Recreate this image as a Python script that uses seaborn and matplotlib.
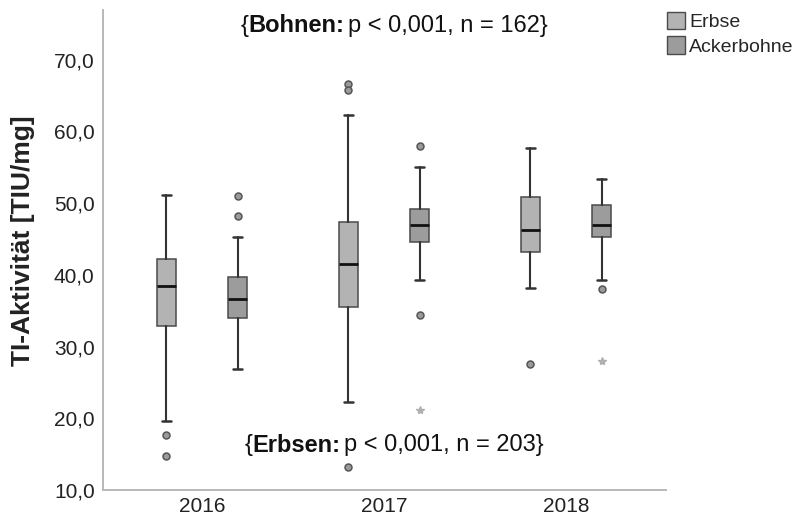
import matplotlib
matplotlib.use("Agg")
import matplotlib.pyplot as plt
from matplotlib.patches import Patch
import seaborn as sns

# Categories
years = ["2016", "2017", "2018"]
species = ["Erbse", "Ackerbohne"]

# Box statistics per year (TIU/mg)
erbse_whislo = [19.6, 22.2, 38.1]
erbse_q1 = [32.9, 35.5, 43.2]
erbse_med = [38.4, 41.5, 46.3]
erbse_q3 = [42.2, 47.3, 50.8]
erbse_whishi = [51.1, 62.3, 57.6]
erbse_outliers = [[17.6, 14.7], [66.6, 65.8, 13.2], [27.5]]
erbse_extremes = [[], [], []]

acker_whislo = [26.9, 39.3, 39.3]
acker_q1 = [34.0, 44.5, 45.3]
acker_med = [36.6, 47.0, 47.0]
acker_q3 = [39.7, 49.2, 49.7]
acker_whishi = [45.2, 55.0, 53.4]
acker_outliers = [[51.0, 48.2], [57.9, 34.4], [38.0]]
acker_extremes = [[], [21.2], [28.0]]

y_ticks = [10, 20, 30, 40, 50, 60, 70]

sns.set_theme(style="white")
plt.rcParams["font.family"] = ["Liberation Sans", "DejaVu Sans"]

W, H = 798, 518
fig = plt.figure(figsize=(W / 100, H / 100), dpi=100)
ax = fig.add_axes([103 / W, 1 - 490 / H, (666 - 103) / W, (490 - 10) / H])

fills = {"Erbse": "#b3b3b3", "Ackerbohne": "#9c9c9c"}
offsets = {"Erbse": -0.197, "Ackerbohne": 0.197}
groups = {
    "Erbse": (erbse_whislo, erbse_q1, erbse_med, erbse_q3, erbse_whishi, erbse_outliers, erbse_extremes),
    "Ackerbohne": (acker_whislo, acker_q1, acker_med, acker_q3, acker_whishi, acker_outliers, acker_extremes),
}

for name, (lo, q1, med, q3, hi, outs, extr) in groups.items():
    stats = []
    for i in range(len(years)):
        stats.append({"whislo": lo[i], "q1": q1[i], "med": med[i], "q3": q3[i],
                      "whishi": hi[i], "fliers": outs[i], "label": years[i]})
    pos = [i + offsets[name] for i in range(len(years))]
    ax.bxp(stats, positions=pos, widths=0.104, capwidths=0.05, patch_artist=True,
           showfliers=True, manage_ticks=False,
           boxprops=dict(facecolor=fills[name], edgecolor="#4a4a4a", linewidth=1.1),
           medianprops=dict(color="#111111", linewidth=2.0),
           whiskerprops=dict(color="#333333", linewidth=1.5),
           capprops=dict(color="#333333", linewidth=1.8),
           flierprops=dict(marker="o", markersize=5, markerfacecolor="#9a9a9a",
                           markeredgecolor="#555555", markeredgewidth=1.1))
    for i, vals in enumerate(extr):
        if vals:
            ax.plot([pos[i]] * len(vals), vals, linestyle="none", marker="*",
                    markersize=6, color="#b0b0b0")

ax.set_xlim(-0.544, 2.55)
ax.set_ylim(10, 76.9)
ax.set_xticks(range(len(years)))
ax.set_xticklabels(years)
ax.set_yticks(y_ticks)
ax.set_yticklabels([f"{v:.1f}".replace(".", ",") for v in y_ticks])
ax.tick_params(axis="both", length=0, labelsize=15, colors="#222222")
ax.tick_params(axis="y", pad=6)
ax.tick_params(axis="x", pad=5)
ax.set_ylabel("TI-Aktivität [TIU/mg]", fontsize=19, fontweight="bold", color="#222222",
              labelpad=10)
ax.yaxis.set_label_coords(-0.12, 0.52)

for side in ("top", "right"):
    ax.spines[side].set_visible(False)
for side in ("left", "bottom"):
    ax.spines[side].set_color("#b8b8b8")
    ax.spines[side].set_linewidth(1.4)
ax.grid(False)

# Legend
handles = [Patch(facecolor=fills[s], edgecolor="#4a4a4a", linewidth=1.0) for s in species]
fig.legend(handles, species, loc="upper left", bbox_to_anchor=(667 / W, 1 - 12 / H),
           frameon=False, fontsize=14, handlelength=0.95, handleheight=1.0,
           handletextpad=0.2, labelspacing=0.25, borderpad=0, borderaxespad=0)


def mixed_text(cx, cy, parts, size):
    """Draw consecutive text pieces of differing weight, centred at (cx, cy) in pixels."""
    renderer = fig.canvas.get_renderer()
    texts = []
    for s, w, gap in parts:
        t = fig.text(0, cy / H, s, fontsize=size, fontweight=w, color="#111111",
                     va="center", ha="left")
        texts.append((t, gap))
    widths = [t.get_window_extent(renderer).width + gap for t, gap in texts]
    x = cx - sum(widths) / 2
    for (t, _), w in zip(texts, widths):
        t.set_x(x / W)
        x += w


mixed_text(394, H - 26, [("{", "normal", 0), ("Bohnen:", "bold", 4),
                         ("p < 0,001, n = 162}", "normal", 0)], 17)
mixed_text(394, H - 445, [("{", "normal", 0), ("Erbsen:", "bold", 4),
                          ("p < 0,001, n = 203}", "normal", 0)], 17)

fig.savefig("out.png", dpi=100)
